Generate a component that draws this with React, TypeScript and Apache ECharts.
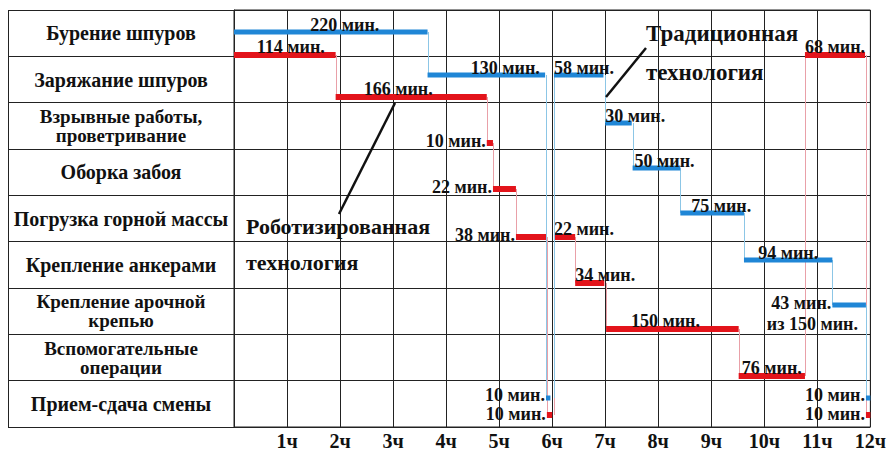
import React, { useEffect, useRef } from "react";
import * as echarts from "echarts";

// ---- data ----
const categories = [
  "Бурение шпуров",
  "Заряжание шпуров",
  "Взрывные работы,\nпроветривание",
  "Оборка забоя",
  "Погрузка горной массы",
  "Крепление анкерами",
  "Крепление арочной\nкрепью",
  "Вспомогательные\nоперации",
  "Прием-сдача смены",
];

const hourLabels = ["", "1ч", "2ч", "3ч", "4ч", "5ч", "6ч", "7ч", "8ч", "9ч", "10ч", "11ч", "12ч"];

// Traditional technology (blue), minutes from shift start
const tradRow = [0, 1, 8, 1, 2, 3, 4, 5, 6, 8];
const tradStart = [0, 219, 353, 362, 420, 451, 505, 577, 677, 715];
const tradEnd = [219, 352, 358, 418, 450, 505, 577, 677, 715, 720];
const tradLabel = ["220 мин.", "130 мин.", "10 мин.", "58 мин.", "30 мин.", "50 мин.", "75 мин.", "94 мин.", "43 мин.", "10 мин."];
const tradNote = ["", "", "", "", "", "", "", "", "из 150 мин.", ""];

// Robotic technology (red)
const roboRow = [0, 1, 2, 3, 4, 8, 4, 5, 6, 7, 0, 8];
const roboStart = [0, 115, 286, 293, 319, 354, 362, 386, 421, 571, 646, 715];
const roboEnd = [115, 286, 293, 319, 353, 360, 386, 419, 571, 646, 714, 720];
const roboLabel = ["114 мин.", "166 мин.", "10 мин.", "22 мин.", "38 мин.", "10 мин.", "22 мин.", "34 мин.", "150 мин.", "76 мин.", "68 мин.", "10 мин."];
const roboNote = ["", "", "", "", "", "", "", "", "", "", "", ""];

// ---- layout / style ----
type Place = { mode: "c" | "s" | "l"; dx: number; dy?: number };
const tradPlace: Place[] = [
  { mode: "c", dx: 14 }, { mode: "c", dx: 19 }, { mode: "l", dx: 0, dy: -1 }, { mode: "s", dx: 0 },
  { mode: "s", dx: 0 }, { mode: "s", dx: 2 }, { mode: "c", dx: 9 }, { mode: "c", dx: 0 },
  { mode: "l", dx: 0 }, { mode: "l", dx: 0, dy: -1 },
];
const roboPlace: Place[] = [
  { mode: "c", dx: 6 }, { mode: "c", dx: -13 }, { mode: "l", dx: 0 }, { mode: "l", dx: 0 },
  { mode: "l", dx: 0 }, { mode: "l", dx: 0, dy: 1 }, { mode: "s", dx: 0 }, { mode: "s", dx: 0 },
  { mode: "c", dx: -7 }, { mode: "c", dx: 0 }, { mode: "c", dx: 0 }, { mode: "l", dx: 0, dy: 1 },
];
// vertical offset of the bar inside its row band (fraction of band height from centre)
const blueRowOffset = [-0.03, -0.1, -0.06, -0.09, -0.12, -0.1, -0.13, -0.1, -0.13];
const redRowOffset = [0.47, 0.37, 0.37, 0.36, 0.4, 0.39, 0.38, 0.4, 0.24];

const SERIF = "'Liberation Serif', 'Times New Roman', serif";

function makeRender(
  rows: number[], ends: number[], labels: string[], notes: string[],
  places: Place[], color: string, connColor: string, thick: number, offs: number[]
) {
  return (params: any, api: any) => {
    const i = params.dataIndex;
    const bandH = api.size([0, 1])[1];
    const p0 = api.coord([api.value(0), api.value(2)]);
    const p1 = api.coord([api.value(1), api.value(2)]);
    const row = rows[i];
    const y = Math.round(p0[1] + offs[row] * bandH);
    const children: any[] = [];
    if (i > 0) {
      const pp = api.coord([ends[i - 1], rows[i - 1]]);
      const yp = Math.round(pp[1] + offs[rows[i - 1]] * bandH);
      const x = Math.round(p0[0]) + 0.5;
      children.push({
        type: "line",
        shape: { x1: x, y1: yp, x2: x, y2: y },
        style: { stroke: connColor, lineWidth: 1 },
        z2: 1,
      });
    }
    children.push({
      type: "rect",
      shape: { x: p0[0], y: y - thick / 2, width: Math.max(p1[0] - p0[0], 2), height: thick },
      style: { fill: color },
      z2: 2,
    });
    const pl = places[i];
    let tx = 0, ty = 0, align = "left", va = "bottom";
    if (pl.mode === "c") {
      tx = (p0[0] + p1[0]) / 2 + pl.dx; ty = y - thick / 2 + 4; align = "center";
    } else if (pl.mode === "s") {
      tx = p0[0] + pl.dx; ty = y - thick / 2 + 4; align = "left";
    } else {
      tx = p0[0] - 1 + pl.dx; ty = y - 2; align = "right"; va = "middle";
    }
    ty += pl.dy || 0;
    const ts = { fontFamily: SERIF, fontWeight: "bold", fontSize: 18, fill: "#111" };
    children.push({
      type: "text",
      x: tx, y: ty,
      style: { ...ts, text: labels[i], align, verticalAlign: va },
      z2: 3,
    });
    if (notes[i]) {
      children.push({
        type: "text",
        x: p1[0] - 8, y: y + 19,
        style: { ...ts, text: notes[i], align: "right", verticalAlign: "middle" },
        z2: 3,
      });
    }
    return { type: "group", children };
  };
}

export default function App() {
  const ref = useRef<HTMLDivElement>(null);
  useEffect(() => {
    if (!ref.current) return;
    const chart = echarts.init(ref.current, undefined, { renderer: "svg" });
    const tradData = tradStart.map((s, i) => [s, tradEnd[i], tradRow[i]]);
    const roboData = roboStart.map((s, i) => [s, roboEnd[i], roboRow[i]]);
    const annot = { fontFamily: SERIF, fontWeight: "bold", fill: "#111", verticalAlign: "middle" };
    chart.setOption({
      animation: false,
      backgroundColor: "#fff",
      grid: { left: 234, right: 17, top: 10, bottom: 25, show: true, borderColor: "#222", borderWidth: 1 },
      xAxis: {
        type: "value", min: 0, max: 720, interval: 60,
        axisLine: { show: false }, axisTick: { show: false },
        splitLine: { show: true, lineStyle: { color: "#222", width: 1 } },
        axisLabel: {
          margin: 4,
          formatter: (v: number) => hourLabels[Math.round(v / 60)] ?? "",
          fontFamily: SERIF, fontWeight: "bold", fontSize: 20, color: "#111",
        },
      },
      yAxis: {
        type: "category", data: categories, inverse: true,
        axisLine: { show: true, lineStyle: { color: "#222" } },
        axisTick: { show: true, length: 226, lineStyle: { color: "#222" } },
        splitLine: { show: true, lineStyle: { color: "#222" } },
        axisLabel: {
          align: "center", margin: 113,
          fontFamily: SERIF, fontWeight: "bold", fontSize: 20, color: "#111",
          formatter: (v: string) =>
            v.includes("\n") ? v.split("\n").map((s) => `{m|${s}}`).join("\n") : v,
          rich: {
            m: { fontFamily: SERIF, fontWeight: "bold", fontSize: 19, lineHeight: 19, color: "#111" },
          },
        },
      },
      series: [
        {
          type: "custom", name: "Роботизированная технология",
          renderItem: makeRender(roboRow, roboEnd, roboLabel, roboNote, roboPlace,
            "#e3141b", "#e9a0a8", 6, redRowOffset),
          encode: { x: [0, 1], y: 2 },
          data: roboData, clip: false, z: 3,
        },
        {
          type: "custom", name: "Традиционная технология",
          renderItem: makeRender(tradRow, tradEnd, tradLabel, tradNote, tradPlace,
            "#1f86d6", "#8cc6e6", 5, blueRowOffset),
          encode: { x: [0, 1], y: 2 },
          data: tradData, clip: false, z: 4,
        },
      ],
      graphic: [
        { type: "line", shape: { x1: 8.5, y1: 10, x2: 8.5, y2: 427 }, style: { stroke: "#222", lineWidth: 1 } },
        { type: "line", shape: { x1: 395, y1: 103, x2: 339, y2: 214 }, style: { stroke: "#111", lineWidth: 2.5 }, z: 10 },
        { type: "line", shape: { x1: 606, y1: 97, x2: 646, y2: 48 }, style: { stroke: "#111", lineWidth: 2.5 }, z: 10 },
        { type: "text", x: 246, y: 226, style: { ...annot, text: "Роботизированная", fontSize: 22 }, z: 10 },
        { type: "text", x: 246, y: 262, style: { ...annot, text: "технология", fontSize: 22 }, z: 10 },
        { type: "text", x: 646, y: 33, style: { ...annot, text: "Традиционная", fontSize: 23 }, z: 10 },
        { type: "text", x: 646, y: 72, style: { ...annot, text: "технология", fontSize: 23 }, z: 10 },
      ],
    });
    return () => chart.dispose();
  }, []);
  return (
    <div
      ref={ref}
      style={{ position: "absolute", left: 0, top: 0, width: 889, height: 452, background: "#fff" }}
    />
  );
}
